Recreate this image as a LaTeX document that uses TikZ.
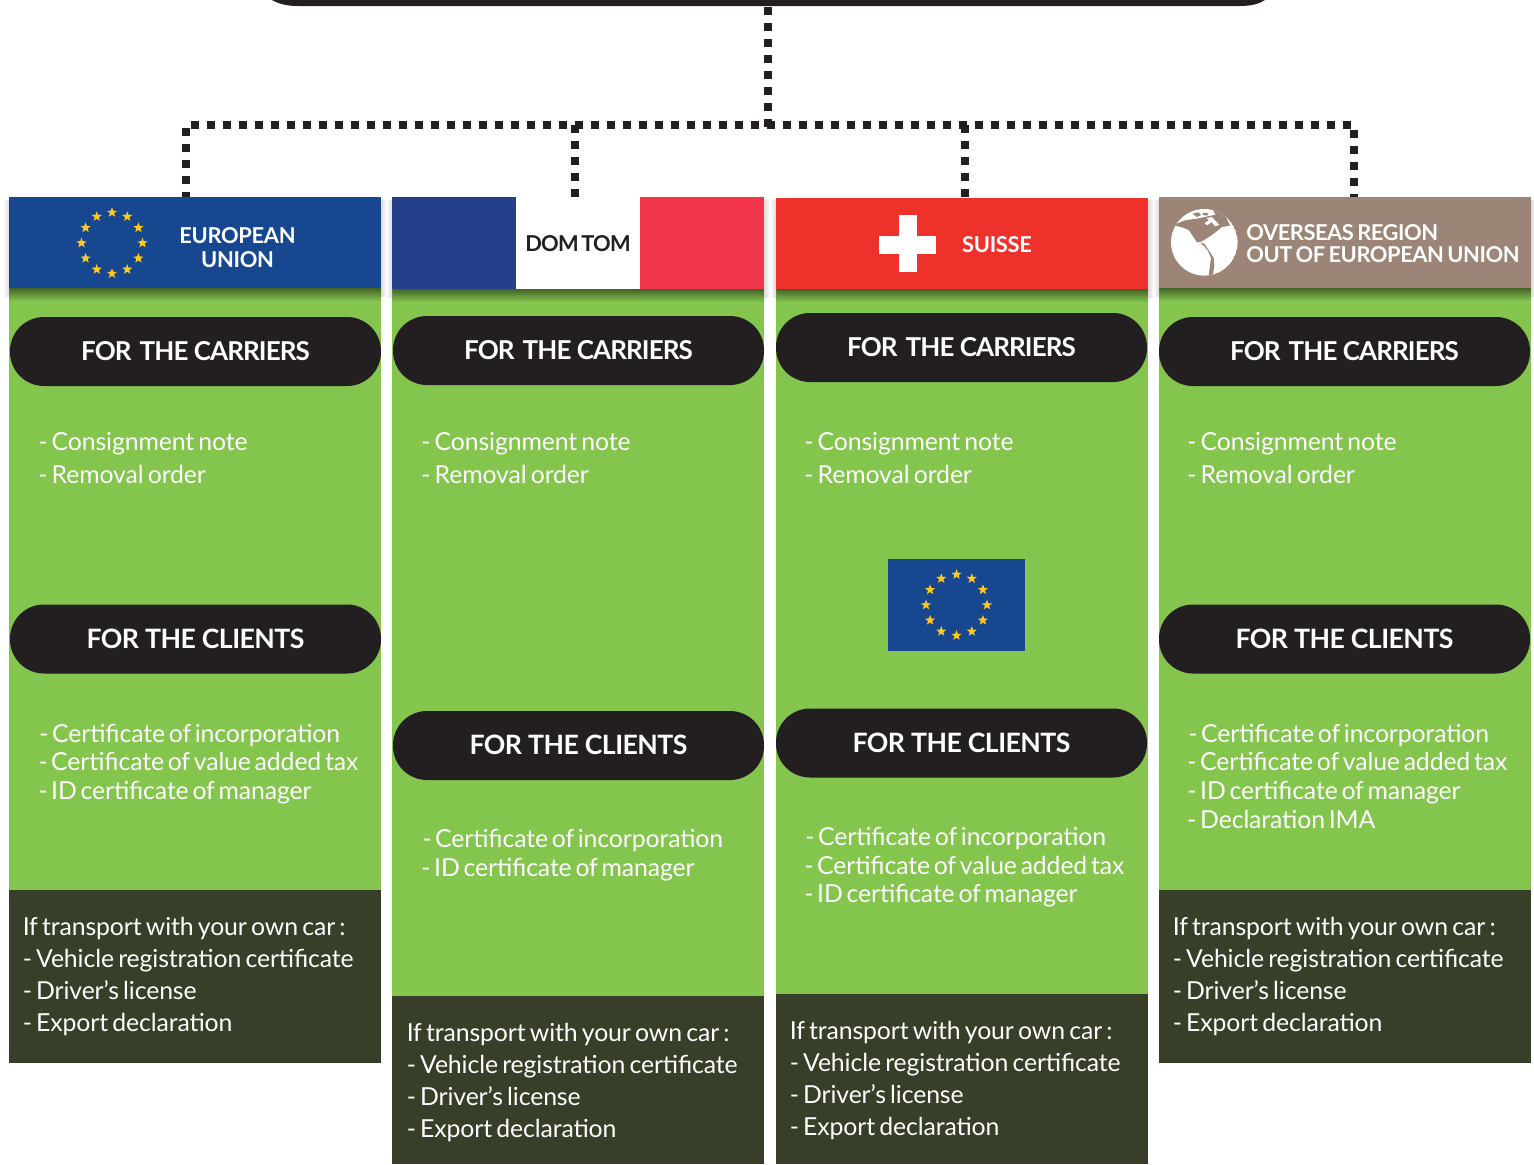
\documentclass[tikz,border=0pt]{standalone}
\usepackage{fontspec}
\usepackage{xcolor}
\setmainfont{Lato}
\usetikzlibrary{shapes.geometric}
\definecolor{leaf}{HTML}{84C54E}
\definecolor{moss}{HTML}{373F28}
\definecolor{ink}{HTML}{231F20}
\definecolor{eublue}{HTML}{17488F}
\definecolor{frblue}{HTML}{24408A}
\definecolor{frred}{HTML}{F03648}
\definecolor{chred}{HTML}{EF312C}
\definecolor{taupe}{HTML}{9C8577}
\definecolor{gold}{HTML}{FFC81E}
\newcommand{\tsp}{\spaceskip 0.12em\relax}
\newcommand{\tspb}{\spaceskip 0.15em\relax}
\newcommand{\tspc}{\spaceskip 0.17em\relax}
\tikzset{
  x=0.75pt,y=-0.75pt,
  dotline/.style={line width=6pt,ink,dash pattern=on 6pt off 6pt},
  pill/.style={fill=ink,draw=none,rounded corners=25.5pt,minimum width=278.25pt,minimum height=51.75pt,inner sep=0pt,text=white},
  pillA/.style={pill,font=\fontsize{19.5}{22}\selectfont\bfseries\addfontfeatures{LetterSpace=-3.5}},
  pillB/.style={pill,font=\fontsize{20}{22}\selectfont\bfseries\addfontfeatures{LetterSpace=-2}},
  body/.style={anchor=north west,inner sep=0pt,text=white,align=left,font=\fontsize{18.6}{21.5}\selectfont\addfontfeatures{LetterSpace=-0.5}\tspb},
  own/.style={anchor=north west,inner sep=0pt,text=white,align=left,font=\fontsize{18.6}{24}\selectfont\addfontfeatures{LetterSpace=-0.5}\tspc},
  twoline/.style={anchor=north west,inner sep=0pt,text=white,align=left,font=\fontsize{18.6}{24.75}\selectfont\addfontfeatures{LetterSpace=-0.5}\tspc},
  bantext/.style={inner sep=0pt,align=center,font=\fontsize{16.4}{18}\selectfont\bfseries\addfontfeatures{LetterSpace=-1.5}\tsp},
  eustar/.style={star,star points=5,star point ratio=2.4,fill=gold,draw=none,minimum size=8pt,inner sep=0pt},
  banbox/.style={minimum width=279pt,minimum height=68.25pt,inner sep=0pt},
}
\newcommand{\drawcol}[4]{% x, banner bottom, dark top, dark bottom
  \fill[leaf] (#1,#2) rectangle ({#1+372},#3);
  \fill[moss] (#1,#3) rectangle ({#1+372},#4);
  \shade[top color=black!50!leaf,bottom color=leaf] (#1,#2) rectangle ({#1+372},{#2+13});
  \shade[left color=white,right color=black!14] ({#1-6},200) rectangle (#1,{#2+8});
  \shade[left color=black!14,right color=white] ({#1+372},200) rectangle ({#1+378},{#2+8});
}
\newcommand{\eustars}[3]{% cx, cy, prefix
  \foreach \a in {0,30,...,330}
    \node[eustar] (#3\a) at ({#1+30.5*cos(\a)},{#2+30.5*sin(\a)}) {};
}
\newcommand{\upT}[1]{\raisebox{-0.75pt}{#1}}
\newcommand{\dnT}[1]{\raisebox{0.75pt}{#1}}
\begin{document}
\begin{tikzpicture}
\useasboundingbox (0,0) rectangle (1534,1164);
% columns
\drawcol{9}{288}{890}{1063}
\drawcol{392}{289}{996}{1164}
\drawcol{776}{289}{994}{1164}
\drawcol{1159}{288}{890}{1063}
% top bar
\fill[ink] (272,0) .. controls (279,4) and (287,6) .. (298,6) -- (1240,6) .. controls (1251,6) and (1259,4) .. (1265,0) -- cycle;
% banners
\node[fill=eublue,banbox] (ban1) at (195,242.5) {};
\fill[frblue] (392,197) rectangle (516,289);
\fill[frred] (640,197) rectangle (764,289);
\fill[white] (516,197) rectangle (640,289);
\node[banbox,minimum height=69pt] (ban2) at (578,243) {};
\node[fill=chred,banbox] (ban3) at (962,243.5) {};
\node[fill=taupe,banbox] (ban4) at (1345,242.5) {};
% connectors
\coordinate (root) at (767.5,7.3);
\coordinate (hub) at (767.5,127.3);
\coordinate (barL) at (190.7,125);
\coordinate (barR) at (1350.7,125);
\coordinate (c1) at (186,128);
\coordinate (c2) at (575.3,125);
\coordinate (c3) at (964.7,125);
\coordinate (c4) at (1354,130);
\coordinate (e1) at (186,197);
\coordinate (e2) at (575.3,197);
\coordinate (e3) at (964.7,198);
\coordinate (e4) at (1354,197);
\draw[dotline] (root) -- (hub);
\draw[dotline] (barL) -- (barR);
\draw[dotline] (c1) -- (e1);
\draw[dotline] (c2) -- (e2);
\draw[dotline] (c3) -- (e3);
\draw[dotline] (c4) -- (e4);
% banner contents
\eustars{112}{243}{a}
\node[bantext,text=white] (t1) at (237.5,248) {EUROPEAN\\UNION};
\node[bantext,text=ink,font=\fontsize{16.4}{18}\selectfont\bfseries\addfontfeatures{LetterSpace=-3.5}\tsp] (t2) at (578,243.5) {DOM TOM};
\fill[white] (879,236) rectangle (936,254);
\fill[white] (899,215) rectangle (917,272);
\node[bantext,text=white] (t3) at (997,244.5) {SUISSE};
\node[bantext,text=white,align=left,anchor=west,font=\fontsize{16.4}{16.5}\selectfont\bfseries\addfontfeatures{LetterSpace=-2}\tspb] (t4) at (1246,244) {OVERSEAS REGION\\OUT OF EUROPEAN UNION};
% globe
\begin{scope}
\clip (1204.3,242.3) circle[radius=33.3];
\fill[white] (1204.3,242.3) circle[radius=33.3];
\begin{scope}[shift={(1165,203)},x=0.25pt,y=-0.25pt]
\fill[taupe] (10,75) -- (32,68) -- (55,74) -- (72,82) -- (84,100) -- (96,118) -- (108,116) -- (122,108) -- (142,95) -- (155,85) -- (170,72) -- (195,68) -- (175,25) -- (142,18) -- (152,35) -- (120,42) -- (95,47) -- (60,52) -- (40,60) -- cycle;
\fill[taupe] (82,32) -- (100,28) -- (108,36) -- (96,42) -- cycle;
\fill[taupe] (112,30) -- (130,30) -- (126,38) -- (114,36) -- cycle;
\fill[white] (125,46) -- (140,42) -- (150,52) -- (163,66) -- (150,70) -- (140,57) -- (126,67) -- (119,60) -- (132,52) -- cycle;
\fill[taupe] (106,120) -- (118,130) -- (128,142) -- (138,165) -- (131,218) -- (143,218) -- (148,190) -- (146,165) -- (130,140) -- (118,122) -- cycle;
\end{scope}
\end{scope}
% pills carriers
\node[pillA] (p1) at (195.5,351.5) {\upT{FOR\hspace{6pt}THE CARRIERS}};
\node[pillA] (p2) at (578.5,350.5) {\upT{FOR\hspace{6pt}THE CARRIERS}};
\node[pillA] (p3) at (961.5,347.5) {\upT{FOR\hspace{6pt}THE CARRIERS}};
\node[pillA] (p4) at (1344.5,351.5) {\upT{FOR\hspace{6pt}THE CARRIERS}};
% pills clients
\node[pillB] (q1) at (195.5,639) {\dnT{FOR THE CLIENTS}};
\node[pillB] (q2) at (578.5,745.5) {\dnT{FOR THE CLIENTS}};
\node[pillB] (q3) at (961.5,743) {\dnT{FOR THE CLIENTS}};
\node[pillB] (q4) at (1344.5,639) {\dnT{FOR THE CLIENTS}};
% lists carriers
\node[twoline] (l1) at (38,432) {- Consignment note\\- Removal order};
\node[twoline] (l2) at (421,432) {- Consignment note\\- Removal order};
\node[twoline] (l3) at (804,432) {- Consignment note\\- Removal order};
\node[twoline] (l4) at (1187,432) {- Consignment note\\- Removal order};
% lists clients
\node[body] (m1) at (38,723.5) {\hspace*{0.75pt}- Certificate of incorporation\\- Certificate of value added tax\\- ID certificate of manager};
\node[body] (m2) at (421,829) {\hspace*{0.75pt}- Certificate of incorporation\\- ID certificate of manager};
\node[body] (m3) at (804,827) {\hspace*{0.75pt}- Certificate of incorporation\\- Certificate of value added tax\\- ID certificate of manager};
\node[body] (m4) at (1187,723.5) {\hspace*{0.75pt}- Certificate of incorporation\\- Certificate of value added tax\\- ID certificate of manager\\- Declaration IMA};
% own car
\node[own] (o1) at (22.5,916.5) {If transport with your own car :\\- Vehicle registration certificate\\- Driver’s license\\- Export declaration};
\node[own] (o2) at (406.5,1022.5) {If transport with your own car :\\- Vehicle registration certificate\\- Driver’s license\\- Export declaration};
\node[own] (o3) at (789.5,1020.5) {If transport with your own car :\\- Vehicle registration certificate\\- Driver’s license\\- Export declaration};
\node[own] (o4) at (1172.5,916.5) {If transport with your own car :\\- Vehicle registration certificate\\- Driver’s license\\- Export declaration};
% small EU flag
\node[fill=eublue,minimum width=102.75pt,minimum height=69pt,inner sep=0pt] (flag) at (956.5,605) {};
\eustars{956.5}{605}{b}
\end{tikzpicture}
\end{document}
